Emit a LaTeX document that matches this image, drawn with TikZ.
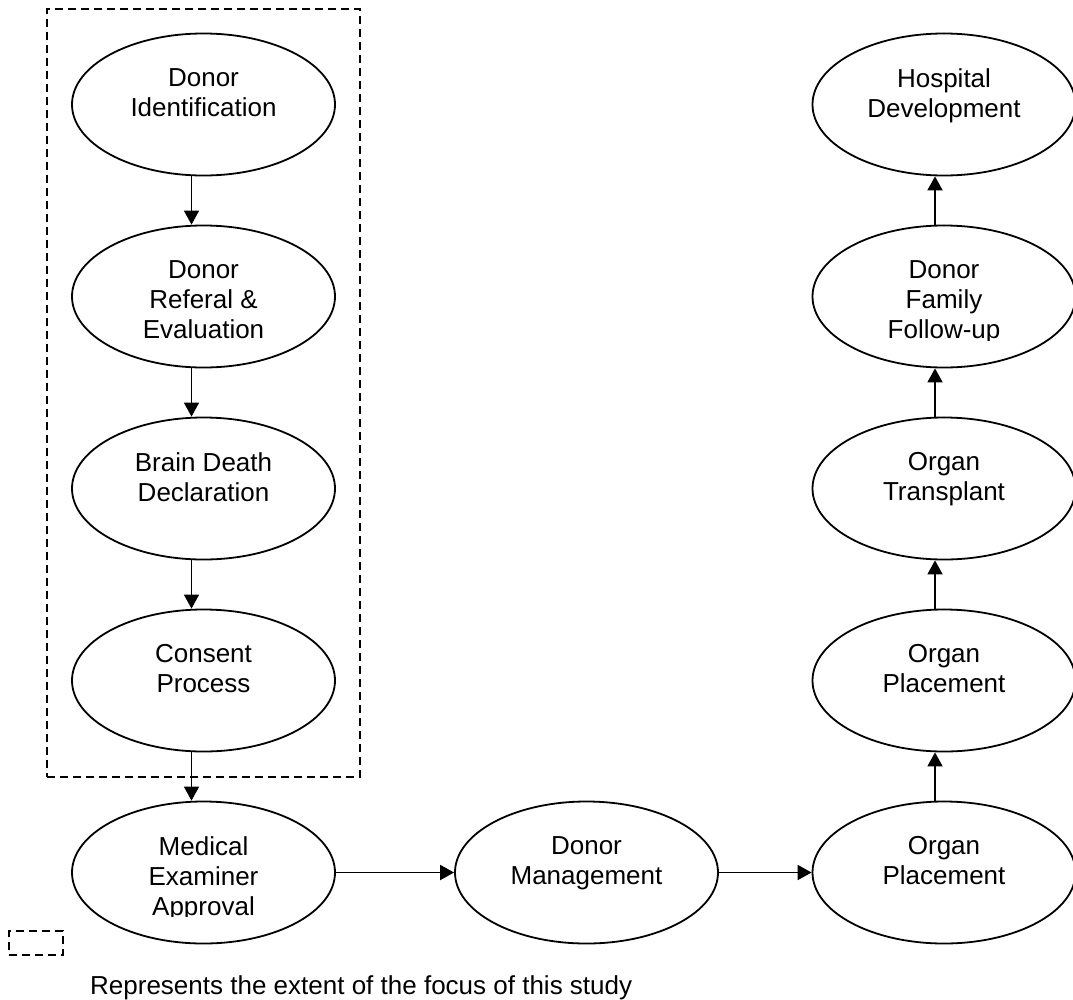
\documentclass[tikz,border=0pt]{standalone}
\usepackage{fontspec}
\setmainfont{Liberation Sans}
\usetikzlibrary{arrows.meta,calc,shapes.geometric}
\begin{document}
\begin{tikzpicture}[x=1pt,y=-1pt,
  oval/.style={draw, ellipse, line width=1.8pt, minimum width=263pt, minimum height=142pt, inner sep=0pt},
  lbl/.style={anchor=north, align=center, inner sep=0pt, font=\fontsize{26}{30}\selectfont},
  arr/.style={-{Triangle[length=14pt,width=15pt]}, line width=1.8pt},
  dsh/.style={draw, dash pattern=on 8pt off 5pt, line width=1.6pt, inner sep=0pt}]
\useasboundingbox (0,0) rectangle (1073,999);

% focus box
\node[dsh, minimum width=313pt, minimum height=768pt] (focus) at (203.5,393) {};

% left column
\node[oval] (id)  at (203.5,104.5) {};
\node[oval] (ref) at (203.5,296.5) {};
\node[oval] (bd)  at (203.5,488.5) {};
\node[oval] (con) at (203.5,680.5) {};
\node[oval] (med) at (203.5,872.5) {};
% bottom middle
\node[oval] (mgmt) at (586.5,872.5) {};
% right column
\node[oval] (op1) at (944,872.5) {};
\node[oval] (op2) at (944,680.5) {};
\node[oval] (ot)  at (944,488.5) {};
\node[oval] (dff) at (944,296.5) {};
\node[oval] (hd)  at (944,104.5) {};

% labels
\node[lbl] (tid)  at ($(id.north)+(0,35.5)$)  {Donor\\Identification};
\node[lbl] (tref) at ($(ref.north)+(0,35.5)$) {Donor\\Referal \&\\Evaluation};
\node[lbl] (tbd)  at ($(bd.north)+(0,35.5)$)  {Brain Death\\Declaration};
\node[lbl] (tcon) at ($(con.north)+(0,35.5)$) {Consent\\Process};
\begin{scope}
  \clip ($(med.north)+(-140,-5)$) rectangle ($(med.north)+(140,115.5)$);
  \node[lbl] (tmed) at ($(med.north)+(0,35.5)$) {Medical\\Examiner\\Approval};
\end{scope}
\node[lbl] (tmgmt) at ($(mgmt.north)+(0,35.5)$) {Donor\\Management};
\node[lbl] (top1) at ($(op1.north)+(0,35.5)$) {Organ\\Placement};
\node[lbl] (top2) at ($(op2.north)+(0,35.5)$) {Organ\\Placement};
\node[lbl] (tot)  at ($(ot.north)+(0,35.5)$)  {Organ\\Transplant};
\begin{scope}
  \clip ($(dff.north)+(-140,-5)$) rectangle ($(dff.north)+(140,115.5)$);
  \node[lbl] (tdff) at ($(dff.north)+(0,35.5)$) {Donor\\Family\\Follow-up};
\end{scope}
\node[lbl] (thd)  at ($(hd.north)+(0,35.5)$)  {Hospital\\Development};

% arrows
\draw[arr] ([xshift=-12pt]id.south)  -- ([xshift=-12pt]ref.north);
\draw[arr] ([xshift=-12pt]ref.south) -- ([xshift=-12pt]bd.north);
\draw[arr] ([xshift=-12pt]bd.south)  -- ([xshift=-12pt]con.north);
\draw[arr] ([xshift=-12pt]con.south) -- ([xshift=-12pt]med.north);
\draw[arr] (med.east) -- (mgmt.west);
\draw[arr] (mgmt.east) -- (op1.west);
\draw[arr] ([xshift=-9pt]op1.north) -- ([xshift=-9pt]op2.south);
\draw[arr] ([xshift=-9pt]op2.north) -- ([xshift=-9pt]ot.south);
\draw[arr] ([xshift=-9pt]ot.north)  -- ([xshift=-9pt]dff.south);
\draw[arr] ([xshift=-9pt]dff.north) -- ([xshift=-9pt]hd.south);

% legend
\node[dsh, minimum width=54pt, minimum height=24pt] (key) at (36,943) {};
\node[anchor=base west, inner sep=0pt, font=\fontsize{26}{30}\selectfont] (keytext) at (90,994) {Represents the extent of the focus of this study};
\end{tikzpicture}
\end{document}
